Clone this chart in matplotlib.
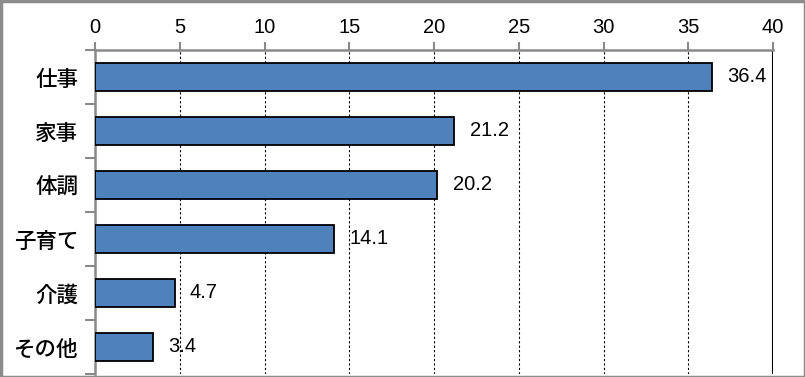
import matplotlib.pyplot as plt
from matplotlib.patches import Rectangle
from matplotlib.ticker import FixedLocator

plt.rcParams['font.family'] = ['Noto Sans CJK JP', 'DejaVu Sans']

categories = ['仕事', '家事', '体調', '子育て', '介護', 'その他']
values = [36.4, 21.2, 20.2, 14.1, 4.7, 3.4]
xticks = [0, 5, 10, 15, 20, 25, 30, 35, 40]

num_font = ['Liberation Sans', 'DejaVu Sans']

fig = plt.figure(figsize=(8.05, 3.77), dpi=100)
ax = fig.add_axes([95 / 805, 1 - 374 / 377, (773 - 95) / 805, (374 - 50) / 377])

ypos = list(range(len(categories)))
ax.barh(ypos, values, height=0.52, color='#4F81BD', edgecolor='black', linewidth=1.3, zorder=3)

for y, v in zip(ypos, values):
    ax.text(v + 0.9, y, f'{v:.1f}', va='center', ha='left',
            fontsize=14.5, family=num_font, zorder=4)

ax.set_xlim(0, 40)
ax.set_ylim(len(categories) - 0.5, -0.5)
ax.xaxis.tick_top()
ax.set_xticks(xticks)
ax.set_xticklabels([str(t) for t in xticks], fontsize=14.5, family=num_font)
ax.tick_params(axis='x', direction='out', length=6, width=1.5, color='#898989', pad=3.5)

ax.set_yticks(ypos)
ax.set_yticklabels(categories, fontsize=15.5, weight='medium')
ax.tick_params(axis='y', which='major', length=0, pad=12)
ax.yaxis.set_minor_locator(FixedLocator([i - 0.5 for i in range(len(categories) + 1)]))
ax.tick_params(axis='y', which='minor', direction='out', length=7, width=1.5, color='#898989')

for x in xticks[1:-1]:
    ax.axvline(x, color='black', linestyle=(0, (2, 2)), linewidth=0.8, zorder=1)
ax.axvline(40, color='black', linewidth=2.2, zorder=2)

for s in ['right', 'bottom']:
    ax.spines[s].set_visible(False)
for s in ['left', 'top']:
    ax.spines[s].set_color('#898989')
    ax.spines[s].set_linewidth(1.8)

fig.patches.append(Rectangle((0.5 / 805, 0.5 / 377), 1 - 1 / 805, 1 - 1 / 377, transform=fig.transFigure,
                             fill=False, edgecolor='#8c8c8c', linewidth=2.5))

fig.savefig('out.png', dpi=100)
